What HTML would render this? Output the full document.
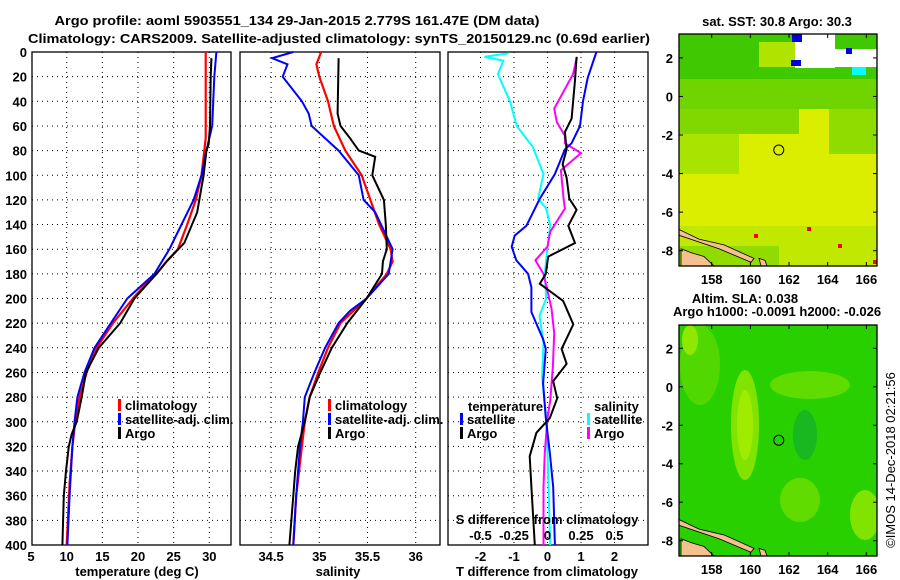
<!DOCTYPE html>
<html><head><meta charset="utf-8"><style>
html,body{margin:0;padding:0;background:#fff;}
svg{display:block;font-family:"Liberation Sans",sans-serif;font-weight:bold;}
text{font-size:13px;fill:#000;}
</style></head><body>
<svg id="fig" width="900" height="580" viewBox="0 0 900 580" xmlns="http://www.w3.org/2000/svg">
<text x="297" y="25" text-anchor="middle" textLength="485" lengthAdjust="spacingAndGlyphs">Argo profile: aoml 5903551_134 29-Jan-2015 2.779S 161.47E (DM data)</text>
<text x="339" y="43" text-anchor="middle" textLength="622" lengthAdjust="spacingAndGlyphs">Climatology: CARS2009. Satellite-adjusted climatology: synTS_20150129.nc (0.69d earlier)</text>
<g id="g1"></g>
<g id="g2"></g>
<g id="g3"></g>
<g id="m1"></g>
<g id="m2"></g>
<text x="777" y="26" text-anchor="middle">sat. SST: 30.8 Argo: 30.3</text>
<text x="745" y="303" text-anchor="middle">Altim. SLA: 0.038</text>
<text x="777" y="316" text-anchor="middle">Argo h1000: -0.0091 h2000: -0.026</text>
<text transform="translate(895,460) rotate(-90)" text-anchor="middle" style="font-weight:normal;font-size:13px">©IMOS 14-Dec-2018 02:21:56</text>
</svg>
<script>
// ---- data ----
const depthTicks=[0,20,40,60,80,100,120,140,160,180,200,220,240,260,280,300,320,340,360,380,400];
const tempTicks=[5,10,15,20,25,30];
const salTicks=[34.5,35,35.5,36];
const tdiffTicks=[-2,-1,0,1,2];
const sdiffTicks=[-0.5,-0.25,0,0.25,0.5];
const sdiffTickLabels=["-0.5","-0.25","0","0.25","0.5"];
const tClimD=[0,70,80,100,120,140,160,170,180,190,200,220,240,260,280,300,320,350,400];
const tClimV=[29.5,29.5,29.3,28.9,28.1,26.9,25.6,24,22.6,20.8,19.3,16.5,14.2,12.8,11.8,11.2,10.8,10.4,10.0];
const tSatD=[0,20,60,80,100,120,140,160,180,200,220,240,260,280,300,320,360,400];
const tSatV=[31,30.7,30.4,29.6,28.9,27.8,26.1,24.4,22.3,18.5,16.2,13.9,12.5,11.5,11.1,10.8,10.4,10.1];
const tArgoD=[5,20,60,75,80,100,120,130,155,170,180,200,220,240,260,280,300,310,320,340,360,400];
const tArgoV=[30.3,30.2,30.1,29.9,29.6,29.2,28.6,28.3,26.5,24,22.6,19.5,17.5,14.5,12.7,12.1,11.4,10.7,10.3,9.9,9.6,9.4];
const sClimD=[0,10,20,40,60,80,100,120,140,160,170,180,200,220,240,260,280,300,320,360,400];
const sClimV=[35.02,34.97,35.0,35.09,35.15,35.27,35.44,35.53,35.62,35.74,35.76,35.70,35.49,35.22,35.09,34.99,34.9,34.85,34.82,34.76,34.73];
const sSatD=[0,5,10,20,40,50,60,80,100,120,130,160,180,200,210,220,240,260,280,300,320,360,400];
const sSatV=[34.73,34.51,34.67,34.62,34.82,34.89,34.92,35.2,35.41,35.46,35.58,35.76,35.72,35.49,35.32,35.2,35.06,34.95,34.85,34.83,34.8,34.76,34.73];
const sArgoD=[5,50,60,70,80,85,100,120,140,160,170,180,200,220,240,260,280,300,320,340,360,400];
const sArgoV=[35.2,35.19,35.22,35.32,35.41,35.58,35.55,35.67,35.69,35.7,35.66,35.65,35.49,35.29,35.13,35.01,34.9,34.85,34.78,34.75,34.73,34.69];
const dTSatD=[0,21,40,60,74,79,99,119,141,149,158,169,180,191,211,233,241,269,297,325,353,400];
const dTSatV=[1.46,1.2,1.06,0.97,0.72,0.52,0.22,-0.23,-0.63,-0.98,-1.07,-0.93,-0.58,-0.48,-0.48,-0.13,-0.05,-0.13,-0.05,0.07,0.17,0.22];
const dTArgoD=[4,23,54,65,79,91,102,119,128,141,155,166,180,188,202,221,241,253,267,281,297,309,328,353,400];
const dTArgoV=[0.87,0.82,0.72,0.52,0.57,0.45,0.57,0.65,0.87,0.62,0.82,0.02,-0.05,-0.23,0.47,0.77,0.42,0.57,0.17,0.29,0.07,-0.33,-0.53,-0.48,-0.38];
const dSSatD=[1,4,7,18,40,60,77,99,119,127,141,158,180,200,214,236,264,297,325,400];
const dSSatV=[-0.29,-0.47,-0.33,-0.37,-0.28,-0.23,-0.11,-0.03,-0.07,-0.01,0.02,0.0,-0.02,-0.01,-0.06,-0.03,-0.04,-0.01,0.0,0.02];
const dSArgoD=[4,18,46,57,68,74,82,96,119,127,146,158,169,180,208,228,255,283,297,325,353,400];
const dSArgoV=[0.22,0.19,0.05,0.07,0.13,0.13,0.25,0.1,0.12,0.13,0.02,0.0,-0.09,-0.03,0.03,0.05,0.04,0.02,0.0,-0.02,-0.03,-0.03];
const lonTicks=[158,160,162,164,166];
const latTicks=[2,0,-2,-4,-6,-8];

// ---- helpers ----
const NS="http://www.w3.org/2000/svg";
function mk(tag,attrs,parent){const e=document.createElementNS(NS,tag);for(const k in attrs)e.setAttribute(k,attrs[k]);parent.appendChild(e);return e;}
const Y0=52,YS=1.2325;
const yD=d=>Y0+d*YS;
const xT=v=>66.7+(v-10)*7.13;
const xS=v=>319.3+(v-35)*96.4;
const xTD=v=>547.5+v*33.5;
const xSD=v=>547.5+v*134;

function frame(g,x0,x1,xticks,xf,name){
  const grid=mk('g',{},g);
  
  
  depthTicks.forEach(d=>{if(d>0&&d<400){mk('line',{x1:x0,x2:x1,y1:yD(d),y2:yD(d),stroke:'#000','stroke-width':1,'stroke-dasharray':'1,4'},grid);}});
  xticks.forEach(v=>{const x=xf(v);if(x>x0+1&&x<x1-1)mk('line',{x1:x,x2:x,y1:Y0,y2:yD(400),stroke:'#000','stroke-width':1,'stroke-dasharray':'1,4'},grid);});
  const r=mk('rect',{x:x0,y:Y0,width:x1-x0,height:yD(400)-Y0,fill:'none',stroke:'#000','stroke-width':1.3},g);
  
  
}
function line(g,D,V,xf,color,w,name){
  const p=mk('polyline',{points:D.map((d,i)=>xf(V[i]).toFixed(1)+','+yD(d).toFixed(1)).join(' '),fill:'none',stroke:color,'stroke-width':w,'stroke-linejoin':'miter'},g);
  
  
}
function txt(g,x,y,s,anchor,name){const t=mk('text',{x:x,y:y,'text-anchor':anchor||'start'},g);t.textContent=s;return t;}
function legend(g,x,y,color,label,name){
  const r=mk('rect',{x:x,y:y-9,width:3,height:12,fill:color},g);
  
  
  txt(g,x+7,y+2,label,'start',name);
}

// ---- temperature panel ----
const g1=document.getElementById('g1');
frame(g1,32,231,tempTicks,xT,'temperature');
depthTicks.forEach(d=>txt(g1,27,yD(d)+5,String(d),'end','depth-tick-label'));
tempTicks.forEach(v=>txt(g1,xT(v),561,String(v),'middle','temperature-tick-label'));
txt(g1,137,576,'temperature (deg C)','middle','temperature-axis-title');
line(g1,tClimD,tClimV,xT,'#ff0000',2.2,'temperature-climatology-line');
line(g1,tSatD,tSatV,xT,'#0000ff',2,'temperature-satellite-line');
line(g1,tArgoD,tArgoV,xT,'#000000',2,'temperature-argo-line');
legend(g1,118,408,'#ff0000','climatology','legend-climatology');
legend(g1,118,422,'#0000ff','satellite-adj. clim.','legend-satellite-adj');
legend(g1,118,436,'#000000','Argo','legend-argo');

// ---- salinity panel ----
const g2=document.getElementById('g2');
frame(g2,240,440,salTicks,xS,'salinity');
salTicks.forEach(v=>txt(g2,xS(v),561,String(v),'middle','salinity-tick-label'));
txt(g2,338,576,'salinity','middle','salinity-axis-title');
line(g2,sClimD,sClimV,xS,'#ff0000',2.2,'salinity-climatology-line');
line(g2,sSatD,sSatV,xS,'#0000ff',2,'salinity-satellite-line');
line(g2,sArgoD,sArgoV,xS,'#000000',2,'salinity-argo-line');
legend(g2,328,408,'#ff0000','climatology','legend-climatology');
legend(g2,328,422,'#0000ff','satellite-adj. clim.','legend-satellite-adj');
legend(g2,328,436,'#000000','Argo','legend-argo');

// ---- difference panel ----
const g3=document.getElementById('g3');
frame(g3,448,648,tdiffTicks,xTD,'difference');
tdiffTicks.forEach(v=>txt(g3,xTD(v),561,String(v),'middle','t-difference-tick-label'));
txt(g3,547,576,'T difference from climatology','middle','t-difference-axis-title');
line(g3,dSSatD,dSSatV,xSD,'#00ffff',2,'salinity-difference-satellite-line');
line(g3,dSArgoD,dSArgoV,xSD,'#ff00ff',2,'salinity-difference-argo-line');
line(g3,dTSatD,dTSatV,xTD,'#0000ff',2,'temperature-difference-satellite-line');
line(g3,dTArgoD,dTArgoV,xTD,'#000000',2,'temperature-difference-argo-line');
txt(g3,468,411,'temperature','start','legend-temperature-heading');
legend(g3,460,422,'#0000ff','satellite','legend-temperature-satellite');
legend(g3,460,436,'#000000','Argo','legend-temperature-argo');
txt(g3,594,411,'salinity','start','legend-salinity-heading');
legend(g3,587,422,'#00ffff','satellite','legend-salinity-satellite');
legend(g3,587,436,'#ff00ff','Argo','legend-salinity-argo');
txt(g3,547,524,'S difference from climatology','middle','s-difference-axis-title');
sdiffTicks.forEach((v,i)=>txt(g3,xSD(v),540,sdiffTickLabels[i],'middle','s-difference-tick-label'));

// ---- maps ----
function map(id,y0,y1,latA,latB,kind){
  const g=document.getElementById(id);
  const x0=679,x1=877;
  const xL=l=>711.7+(l-158)*19.33;
  const yL=l=>latA+(2-l)*(latB-latA)/10;
  const bg=mk('g',{},g);
  
  
  const cp=mk('clipPath',{id:id+'clip'},g);mk('rect',{x:x0,y:y0,width:x1-x0,height:y1-y0},cp);
  bg.setAttribute('clip-path','url(#'+id+'clip)');
  if(kind==='sst'){
    mk('rect',{x:x0,y:y0,width:198,height:y1-y0,fill:'#dcee00'},bg);
    mk('rect',{x:x0,y:y0,width:198,height:45,fill:'#40c800'},bg);
    mk('rect',{x:x0,y:y0+45,width:198,height:30,fill:'#70d400'},bg);
    mk('rect',{x:x0,y:y0+75,width:120,height:25,fill:'#80d800'},bg);
    mk('rect',{x:x0,y:y0+100,width:60,height:40,fill:'#a8e400'},bg);
    mk('rect',{x:x0+150,y:y0+75,width:48,height:45,fill:'#90dc00'},bg);
    mk('rect',{x:x0+80,y:y0+8,width:40,height:25,fill:'#b0e400'},bg);
    mk('rect',{x:x0,y:y1-40,width:198,height:40,fill:'#c0e800'},bg);
    mk('rect',{x:x0,y:y1-20,width:100,height:20,fill:'#90dc00'},bg);
    mk('rect',{x:795,y:y0,width:40,height:34,fill:'#ffffff'},bg);
    mk('rect',{x:835,y:y0+15,width:42,height:18,fill:'#ffffff'},bg);
    mk('rect',{x:792,y:y0,width:10,height:8,fill:'#0000e0'},bg);
    mk('rect',{x:791,y:y0+26,width:10,height:6,fill:'#0000e0'},bg);
    mk('rect',{x:846,y:y0+14,width:6,height:6,fill:'#0000e0'},bg);
    mk('rect',{x:852,y:y0+33,width:14,height:8,fill:'#00ffff'},bg);
    mk('rect',{x:754,y:y1-32,width:4,height:4,fill:'#ff0000'},bg);
    mk('rect',{x:807,y:y1-39,width:4,height:4,fill:'#ff0000'},bg);
    mk('rect',{x:838,y:y1-22,width:4,height:4,fill:'#ff0000'},bg);
    mk('rect',{x:873,y:y1-6,width:4,height:4,fill:'#ff0000'},bg);
  } else {
    mk('rect',{x:x0,y:y0,width:198,height:y1-y0,fill:'#28d000'},bg);
    mk('ellipse',{cx:745,cy:y0+100,rx:14,ry:55,fill:'#80e400'},bg);
    mk('ellipse',{cx:745,cy:y0+100,rx:8,ry:35,fill:'#a0ec00'},bg);
    mk('ellipse',{cx:810,cy:y0+60,rx:40,ry:14,fill:'#60dc00'},bg);
    mk('ellipse',{cx:800,cy:y0+175,rx:20,ry:22,fill:'#60dc00'},bg);
    mk('ellipse',{cx:865,cy:y0+190,rx:15,ry:25,fill:'#80e400'},bg);
    mk('ellipse',{cx:700,cy:y0+40,rx:20,ry:40,fill:'#50d800'},bg);
    mk('ellipse',{cx:805,cy:y0+110,rx:12,ry:25,fill:'#18b820'},bg);
    mk('ellipse',{cx:690,cy:y0+15,rx:8,ry:15,fill:'#90e800'},bg);
  }
  // coast
  const c=mk('g',{fill:'#f5c090',stroke:'#000','stroke-width':0.8},bg);
  
  
  mk('polygon',{points:x0+','+(yL(-6.9))+' '+(x0+20)+','+yL(-7.4)+' '+(x0+45)+','+yL(-7.7)+' '+(x0+75)+','+yL(-8.4)+' '+(x0+72)+','+yL(-8.6)+' '+(x0+40)+','+yL(-7.9)+' '+x0+','+yL(-7.2)},c);
  mk('polygon',{points:(x0+2)+','+yL(-7.9)+' '+(x0+12)+','+yL(-8.1)+' '+(x0+25)+','+yL(-8.3)+' '+(x0+35)+','+y1+' '+(x0+2)+','+y1},c);
  mk('polygon',{points:(x0+80)+','+yL(-8.4)+' '+(x0+86)+','+yL(-8.5)+' '+(x0+88)+','+y1+' '+(x0+82)+','+y1},c);
  const ring=mk('circle',{cx:xL(161.47),cy:yL(-2.779),r:5,fill:'none',stroke:'#000','stroke-width':1},g);
  
  
  const f=mk('rect',{x:x0,y:y0,width:x1-x0,height:y1-y0,fill:'none',stroke:'#000','stroke-width':1.3},g);
  
  
  lonTicks.forEach(l=>{const x=xL(l);mk('line',{x1:x,x2:x,y1:y0,y2:y0+4,stroke:'#000'},g);mk('line',{x1:x,x2:x,y1:y1,y2:y1-4,stroke:'#000'},g);txt(g,x,y1+18,String(l),'middle','longitude-tick-label');});
  latTicks.forEach(l=>{const y=yL(l);mk('line',{x1:x0,x2:x0+4,y1:y,y2:y,stroke:'#000'},g);mk('line',{x1:x1,x2:x1-4,y1:y,y2:y,stroke:'#000'},g);txt(g,673,y+5,String(l),'end','latitude-tick-label');});
}
map('m1',34,266,57.9,250.7,'sst');
map('m2',325,556,348.3,540.7,'sla');
</script>
</body></html>
